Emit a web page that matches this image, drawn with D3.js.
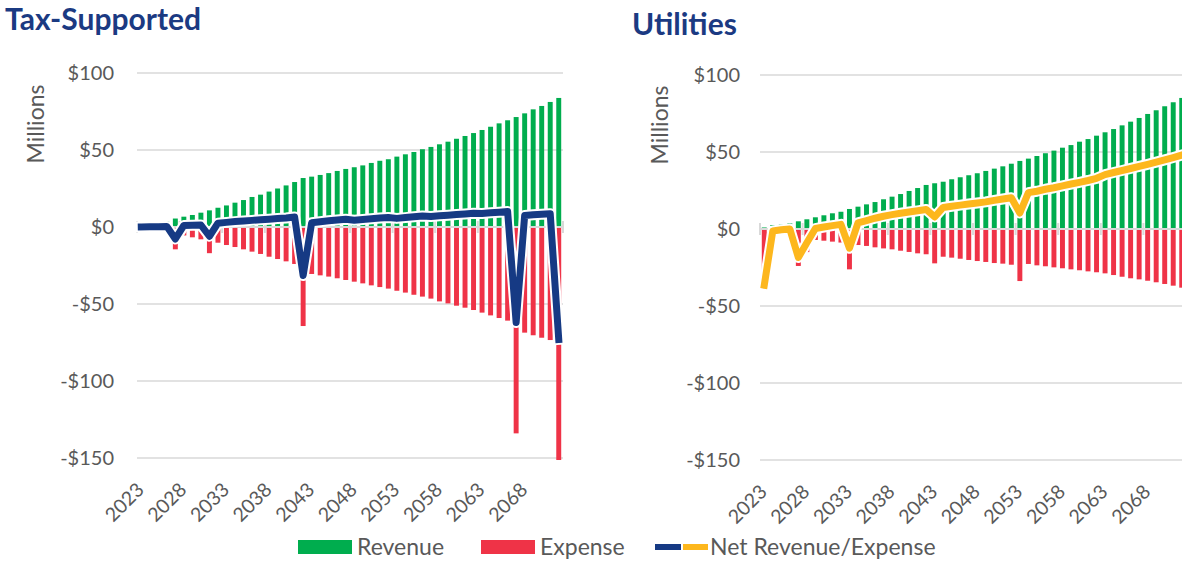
<!DOCTYPE html>
<html>
<head>
<meta charset="utf-8">
<script src="https://cdn.jsdelivr.net/npm/d3@7"></script>
<style>
  body { margin: 0; background: #fff; }
  svg { display: block; font-family: Lato, "Open Sans", sans-serif; }
</style>
</head>
<body>
<div id="chart"></div>
<script>
// categories
const years = d3.range(2023, 2073);
const yTicks = [100, 50, 0, -50, -100, -150];
const tickYears = [2023, 2028, 2033, 2038, 2043, 2048, 2053, 2058, 2063, 2068];

// Tax-Supported (millions)
const taxRevenue = [0.5, 1, 1.5, 3.5, 5.5, 6.7, 7.8, 9.3, 10.8, 12.5,
  14, 15.8, 17.5, 19.5, 21, 23, 25, 27, 29.2, 31.8,
  32.7, 33.8, 35, 36.4, 37.7, 38.8, 40, 41.6, 43, 44,
  45.7, 47.2, 48.7, 50.5, 52, 53.7, 55.4, 57.3, 59.1, 61,
  63, 65.1, 67.3, 69.3, 71.4, 73.8, 76.4, 78.6, 81.2, 83.8];
const taxExpense = [-0.5, -0.8, -1.2, -2.5, -14.5, -5.5, -6.7, -8, -17, -10.2,
  -11.7, -13, -14.5, -16, -17.5, -19.3, -20.8, -22.3, -24, -64.3,
  -30.5, -31.4, -32.2, -33.3, -34.4, -35.5, -36.6, -37.9, -39, -40,
  -41.4, -42.6, -44, -45.2, -46.5, -48.3, -49.6, -51.1, -52.4, -53.9,
  -55.6, -57.4, -59.1, -60.8, -134, -68.6, -70.3, -71.9, -73.4, -151.3];
const taxNet = [0, 0.1, 0.2, 0.4, -7.8, 1, 1.2, 1.3, -6, 2.5,
  3, 3.5, 3.9, 4.3, 4.7, 5.1, 5.5, 5.9, 6.5, -31.5,
  2.8, 3.4, 4, 4.5, 5, 4.4, 4.8, 5.3, 5.8, 6.2,
  5.6, 6.1, 6.6, 7.2, 6.8, 7.3, 7.7, 8.1, 8.5, 8.9,
  8.8, 9.2, 9.6, 10, -62, 7.5, 8, 8.3, 8.6, -73];

// Utilities (millions)
const utilRevenue = [1, 2.6, 3, 3.7, 5, 6.3, 7.6, 8.9, 10.2, 11.2,
  13, 14.5, 16, 17.5, 19.3, 21, 22.7, 24.7, 26.6, 28.6,
  29.7, 30.7, 32.3, 33.6, 34.9, 36.2, 37.7, 39.2, 40.7, 42.4,
  44.2, 45.7, 47.4, 49.2, 50.9, 52.8, 54.5, 56.7, 58.4, 60.6,
  62.8, 64.9, 67.3, 69.7, 72.1, 74.7, 77.1, 79.7, 82.3, 85.1];
const utilExpense = [-37, -3.5, -3.5, -3, -24, -15, -7.1, -7.6, -8.2, -8.8,
  -26.2, -10.4, -11, -11.9, -12.6, -13.2, -14.1, -14.9, -15.8, -16.4,
  -22.3, -18, -18.6, -19.3, -20.1, -20.8, -21.4, -22.1, -22.5, -23.2,
  -33.8, -22.7, -23.6, -24.2, -24.9, -25.5, -26.2, -26.8, -27.5, -28.1,
  -28.8, -29.9, -31, -32, -32.7, -33.6, -34.6, -35.7, -36.8, -38.1];
const utilNet = [-36.5, -1.3, -0.5, 0, -18.5, -9, 0.3, 1.3, 2.2, 3,
  -12.5, 4, 5.5, 7, 8.3, 9.3, 10.2, 11, 11.8, 12.7,
  7.8, 14, 14.8, 15.5, 16.2, 16.9, 17.6, 18.6, 19.5, 20.3,
  10.4, 23.6, 24.5, 25.8, 26.8, 28, 29.2, 30.3, 31.5, 32.9,
  35.3, 36.7, 38, 39.3, 40.7, 42, 43.4, 44.9, 46.4, 48];

const GREEN = "#00ad4e", RED = "#ef3347", NAVY = "#163a84", GOLD = "#fdb71d";
const TEXT = "#595959", GRID = "#d9d9d9";

const W = 1182, H = 562;
const svg = d3.select("#chart").append("svg")
  .attr("width", W).attr("height", H);

const drawPanel = (cfg) => {
  const g = svg.append("g");

  const x = d3.scaleBand()
    .domain(years)
    .range([cfg.left, cfg.left + 426])
    .paddingInner(0.42)
    .paddingOuter(0.21);
  const y = d3.scaleLinear()
    .domain([-150, 100])
    .range([cfg.bottom, cfg.top]);
  const step = x.step();
  const bw = x.bandwidth();

  // title
  g.append("text")
    .attr("x", cfg.titleX).attr("y", cfg.titleY)
    .attr("font-size", 30).attr("font-weight", 700)
    .attr("fill", "#1b3a82")
    .text(cfg.title);

  // y axis label
  g.append("text")
    .attr("transform", `translate(${cfg.unitX},${cfg.unitY}) rotate(-90)`)
    .attr("text-anchor", "middle")
    .attr("font-size", 23).attr("fill", TEXT)
    .text("Millions");

  // gridlines
  g.append("g").selectAll("line")
    .data(yTicks)
    .join("line")
    .attr("x1", cfg.left).attr("x2", cfg.left + 426)
    .attr("y1", d => y(d)).attr("y2", d => y(d))
    .attr("stroke", GRID).attr("stroke-width", 1.5);

  // y tick labels
  g.append("g").selectAll("text")
    .data(yTicks)
    .join("text")
    .attr("x", cfg.left - cfg.labelGap)
    .attr("y", d => y(d))
    .attr("dy", "0.35em")
    .attr("text-anchor", "end")
    .attr("font-size", 20).attr("fill", TEXT)
    .text(d => (d < 0 ? "-$" : "$") + Math.abs(d));

  // bars
  g.append("g").selectAll("rect")
    .data(cfg.revenue)
    .join("rect")
    .attr("x", (d, i) => x(years[i]))
    .attr("width", bw)
    .attr("y", d => y(Math.max(0, d)))
    .attr("height", d => Math.abs(y(d) - y(0)))
    .attr("fill", GREEN);

  g.append("g").selectAll("rect")
    .data(cfg.expense)
    .join("rect")
    .attr("x", (d, i) => x(years[i]))
    .attr("width", bw)
    .attr("y", d => y(Math.max(0, d)))
    .attr("height", d => Math.abs(y(d) - y(0)))
    .attr("fill", RED);

  // category axis on the zero line
  const ax = g.append("g");
  ax.append("line")
    .attr("x1", cfg.left).attr("x2", cfg.left + 426)
    .attr("y1", y(0)).attr("y2", y(0))
    .attr("stroke", GRID).attr("stroke-width", 2);
  ax.selectAll("line.tick")
    .data(d3.range(0, years.length + 1, 5))
    .join("line")
    .attr("class", "tick")
    .attr("x1", i => cfg.left + i * step).attr("x2", i => cfg.left + i * step)
    .attr("y1", y(0) - 6).attr("y2", y(0) + 6)
    .attr("stroke", GRID).attr("stroke-width", 2);

  // year labels at the bottom
  g.append("g").selectAll("text")
    .data(tickYears)
    .join("text")
    .attr("transform", d => `translate(${x(d) + bw / 2 + 4},${cfg.bottom + 33}) rotate(-45)`)
    .attr("text-anchor", "end")
    .attr("font-size", 19.5).attr("fill", TEXT)
    .text(d => d);

  // net line with white halo
  const line = d3.line()
    .x((d, i) => x(years[i]) + bw / 2)
    .y(d => y(d));
  g.append("path")
    .attr("d", line(cfg.net))
    .attr("fill", "none")
    .attr("stroke", "#fff").attr("stroke-width", 11)
    .attr("stroke-linejoin", "round").attr("stroke-linecap", "square");
  g.append("path")
    .attr("d", line(cfg.net))
    .attr("fill", "none")
    .attr("stroke", cfg.lineColor).attr("stroke-width", 7)
    .attr("stroke-linejoin", "round").attr("stroke-linecap", "square");
};

drawPanel({
  title: "Tax-Supported", titleX: 5, titleY: 30,
  left: 137, top: 73, bottom: 458, labelGap: 23,
  unitX: 44, unitY: 124,
  revenue: taxRevenue, expense: taxExpense, net: taxNet, lineColor: NAVY
});

drawPanel({
  title: "Utilities", titleX: 632, titleY: 35,
  left: 760, top: 75, bottom: 460, labelGap: 20,
  unitX: 668, unitY: 125,
  revenue: utilRevenue, expense: utilExpense, net: utilNet, lineColor: GOLD
});

// legend
const legend = svg.append("g").attr("font-size", 23).attr("fill", TEXT);
const ly = 547;
legend.append("rect").attr("x", 298).attr("y", ly - 7).attr("width", 54).attr("height", 14).attr("fill", GREEN);
legend.append("text").attr("x", 357).attr("y", ly).attr("dy", "0.35em").text("Revenue");
legend.append("rect").attr("x", 481).attr("y", ly - 7).attr("width", 54).attr("height", 14).attr("fill", RED);
legend.append("text").attr("x", 540).attr("y", ly).attr("dy", "0.35em").text("Expense");
legend.append("rect").attr("x", 655).attr("y", ly - 3).attr("width", 26).attr("height", 6).attr("fill", NAVY);
legend.append("rect").attr("x", 683).attr("y", ly - 3).attr("width", 25).attr("height", 6).attr("fill", GOLD);
legend.append("text").attr("x", 710).attr("y", ly).attr("dy", "0.35em").text("Net Revenue/Expense");
</script>
</body>
</html>
